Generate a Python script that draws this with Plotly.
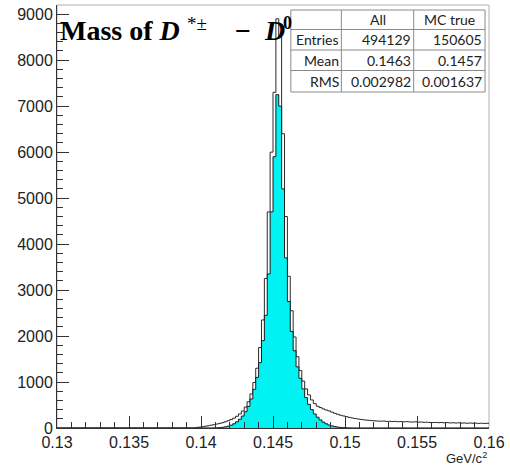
import numpy as np
import plotly.graph_objects as go

# ---------------- data ----------------
HIST_MIN = 0.13
HIST_MAX = 0.16
N_BINS = 150

all_counts = [
    0, 0, 0, 0, 0, 0, 0, 0, 0, 0,
    0, 0, 0, 0, 0, 0, 0, 0, 0, 0,
    0, 0, 0, 0, 0, 0, 0, 0, 0, 0,
    0, 0, 0, 0, 0, 0, 0, 0, 0, 0,
    0, 0, 0, 0, 0, 0, 0, 0, 8, 18,
    28, 38, 48, 60, 72, 85, 100, 115, 135, 158,
    185, 215, 255, 305, 370, 455, 570, 740, 990, 1300,
    1750, 2350, 3250, 4700, 6000, 7300, 8900, 8500, 6400, 4600,
    3300, 2550, 1980, 1550, 1250, 1020, 850, 720, 610, 530,
    475, 445, 415, 392, 372, 345, 320, 298, 278, 262,
    247, 232, 218, 207, 197, 187, 179, 171, 166, 160,
    155, 150, 148, 152, 143, 146, 140, 144, 137, 141,
    135, 138, 132, 130, 134, 127, 129, 124, 126, 120,
    118, 121, 116, 119, 113, 117, 110, 114, 108, 112,
    106, 110, 104, 108, 103, 105, 100, 104, 99, 102,
]

mc_true_counts = [
    0, 0, 0, 0, 0, 0, 0, 0, 0, 0,
    0, 0, 0, 0, 0, 0, 0, 0, 0, 0,
    0, 0, 0, 0, 0, 0, 0, 0, 0, 0,
    0, 0, 0, 0, 0, 0, 0, 0, 0, 0,
    0, 0, 0, 0, 0, 0, 0, 0, 0, 0,
    0, 0, 0, 0, 2, 4, 8, 15, 25, 40,
    62, 92, 135, 190, 260, 355, 470, 630, 840, 1100,
    1420, 1900, 2450, 3350, 4700, 5900, 7250, 7000, 5200, 3700,
    2750, 2100, 1680, 1330, 1080, 850, 660, 515, 400, 305,
    235, 175, 128, 92, 66, 46, 31, 20, 12, 7,
    4, 2, 0, 0, 0, 0, 0, 0, 0, 0,
    0, 0, 0, 0, 0, 0, 0, 0, 0, 0,
    0, 0, 0, 0, 0, 0, 0, 0, 0, 0,
    0, 0, 0, 0, 0, 0, 0, 0, 0, 0,
    0, 0, 0, 0, 0, 0, 0, 0, 0, 0,
]

x_tick_values = [0.13, 0.135, 0.14, 0.145, 0.15, 0.155, 0.16]
x_tick_labels = ["0.13", "0.135", "0.14", "0.145", "0.15", "0.155", "0.16"]
y_tick_values = [0, 1000, 2000, 3000, 4000, 5000, 6000, 7000, 8000, 9000]
y_tick_labels = ["0", "1000", "2000", "3000", "4000", "5000", "6000", "7000", "8000", "9000"]

stat_headers = ["All", "MC true"]
stat_labels = ["Entries", "Mean", "RMS"]
stat_all = ["494129", "0.1463", "0.002982"]
stat_mc = ["150605", "0.1457", "0.001637"]

assert len(all_counts) == N_BINS and len(mc_true_counts) == N_BINS

edges = np.linspace(HIST_MIN, HIST_MAX, N_BINS + 1)
x_step = list(edges)


def step_y(counts):
    return list(counts) + [counts[-1]]


fig = go.Figure()
fig.add_trace(go.Scatter(
    x=x_step, y=step_y(all_counts), mode="lines", line_shape="hv",
    line=dict(color="#2a2a2a", width=1), hoverinfo="skip", showlegend=False,
))
fig.add_trace(go.Scatter(
    x=x_step, y=step_y(mc_true_counts), mode="lines", line_shape="hv",
    line=dict(color="#1a1a1a", width=1), fill="tozeroy", fillcolor="#00F2F2",
    hoverinfo="skip", showlegend=False,
))

W, H = 510, 466
ML, MR, MT, MB = 57, 17, 5, 38
PW = W - ML - MR
PH = H - MT - MB


def px_x(px):
    return (px - ML) / PW


def px_y(py):
    return (H - MB - py) / PH


tick_font = dict(family="Liberation Sans, Arial, sans-serif", size=16, color="#222")

fig.update_layout(
    width=W, height=H,
    margin=dict(l=ML, r=MR, t=MT, b=MB, pad=0),
    paper_bgcolor="white", plot_bgcolor="white",
    xaxis=dict(
        range=[HIST_MIN, HIST_MAX], tickvals=x_tick_values, ticktext=x_tick_labels,
        ticks="inside", ticklen=12, tickcolor="#333", tickwidth=1,
        showline=True, linecolor="#333", linewidth=1, showgrid=False, zeroline=False,
        tickfont=tick_font,
        minor=dict(dtick=0.001, tick0=0.13, ticks="inside", ticklen=6, tickcolor="#333", showgrid=False),
    ),
    yaxis=dict(
        range=[0, 9200], tickvals=y_tick_values, ticktext=y_tick_labels,
        ticks="inside", ticklen=12, tickcolor="#333", tickwidth=1,
        showline=True, linecolor="#333", linewidth=1, showgrid=False, zeroline=False,
        tickfont=tick_font,
        minor=dict(dtick=200, tick0=0, ticks="inside", ticklen=6, tickcolor="#333", showgrid=False),
    ),
)

shapes = []
# frame
shapes.append(dict(type="rect", xref="paper", yref="paper", x0=0, x1=1, y0=0, y1=1,
                   line=dict(color="#b0b0b0", width=1), layer="below"))

# stats table
tx = [293, 344, 417, 489]
ty = [10, 29.5, 50, 70.5, 92]
shapes.append(dict(type="rect", xref="paper", yref="paper",
                   x0=px_x(tx[0]), x1=px_x(tx[-1]), y0=px_y(ty[-1]), y1=px_y(ty[0]),
                   line=dict(color="#8a8a8a", width=1), fillcolor="white", layer="above"))
for xv in tx[1:-1]:
    shapes.append(dict(type="line", xref="paper", yref="paper", x0=px_x(xv), x1=px_x(xv),
                       y0=px_y(ty[-1]), y1=px_y(ty[0]), line=dict(color="#8a8a8a", width=1)))
for yv in ty[1:-1]:
    shapes.append(dict(type="line", xref="paper", yref="paper", x0=px_x(tx[0]), x1=px_x(tx[-1]),
                       y0=px_y(yv), y1=px_y(yv), line=dict(color="#8a8a8a", width=1)))

annotations = []
tfont = dict(family="Lato, Carlito, sans-serif", size=14, color="#222")
for j, h in enumerate(stat_headers):
    annotations.append(dict(xref="paper", yref="paper", x=px_x((tx[j + 1] + tx[j + 2]) / 2),
                            y=px_y((ty[0] + ty[1]) / 2), text=h, showarrow=False,
                            xanchor="center", yanchor="middle", font=tfont))
for i, lab in enumerate(stat_labels):
    yc = px_y((ty[i + 1] + ty[i + 2]) / 2)
    annotations.append(dict(xref="paper", yref="paper", x=px_x(tx[1] - 0), y=yc, text=lab,
                            showarrow=False, xanchor="right", yanchor="middle", font=tfont))
    annotations.append(dict(xref="paper", yref="paper", x=px_x(tx[2] - 1), y=yc, text=stat_all[i],
                            showarrow=False, xanchor="right", yanchor="middle", font=tfont))
    annotations.append(dict(xref="paper", yref="paper", x=px_x(tx[3] - 1), y=yc, text=stat_mc[i],
                            showarrow=False, xanchor="right", yanchor="middle", font=tfont))

# title, built from pieces to mimic the LaTeX spacing
serif = "Liberation Serif, Times New Roman, serif"
title_parts = [
    ("<b>Mass of <i>D</i></b>", 58, 31, 28, "left"),
    ("*±", 186, 24, 19, "left"),
    ("<b>−</b>", 245, 31, 28, "center"),
    ("<b><i>D</i></b>", 264, 31, 28, "left"),
    ("<b>0</b>", 283, 23, 18, "left"),
]
for txt, xp, yp, fs, xa in title_parts:
    annotations.append(dict(
        xref="paper", yref="paper", x=px_x(xp), y=px_y(yp), xanchor=xa, yanchor="middle",
        text=txt, showarrow=False, font=dict(family=serif, size=fs, color="black"),
    ))

# x axis title
annotations.append(dict(
    xref="paper", yref="paper", x=px_x(493), y=px_y(458), xanchor="right", yanchor="middle",
    text="GeV/c<sup>2</sup>", showarrow=False,
    font=dict(family="Liberation Sans, Arial, sans-serif", size=13, color="#222"),
))

fig.update_layout(shapes=shapes, annotations=annotations)
fig.write_html("out.html")
